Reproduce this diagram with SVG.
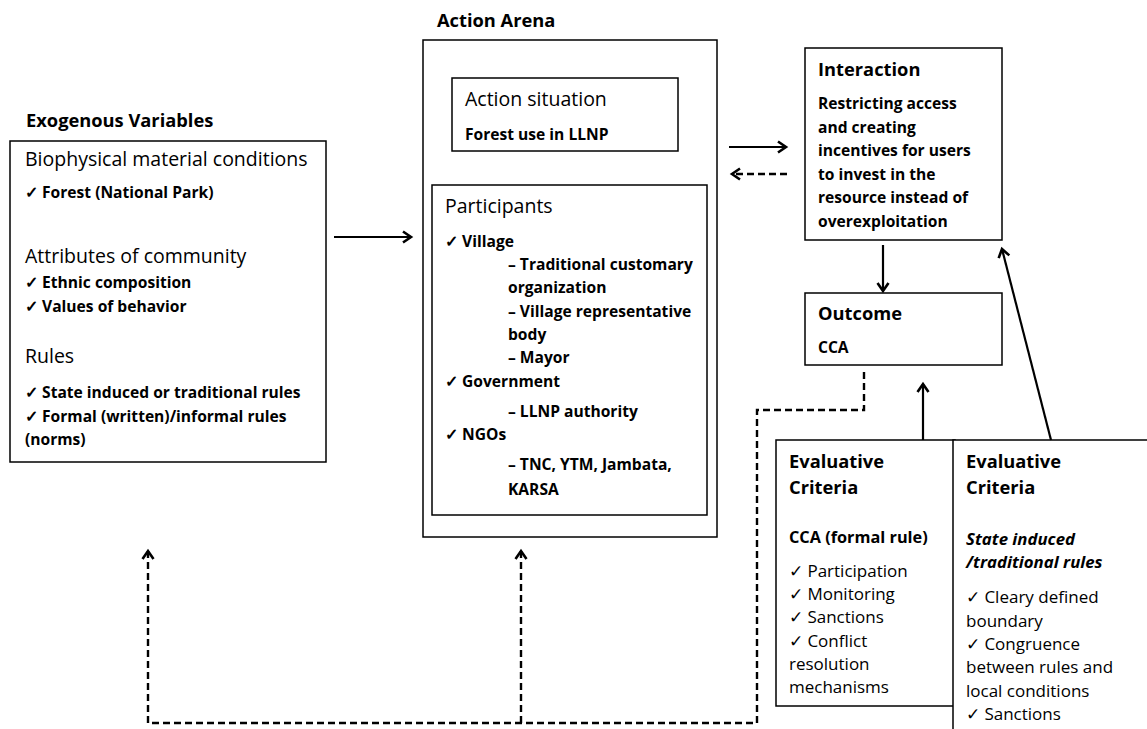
<svg xmlns="http://www.w3.org/2000/svg" width="1147" height="729" viewBox="0 0 1147 729">
  <style>
    text { font-family: "Open Sans", "Liberation Sans", sans-serif; fill: #000; }
    .h { font-size: 18.3px; font-weight: bold; }
    .s { font-size: 19.5px; }
    .b { font-size: 15.6px; font-weight: bold; }
    .bt { font-size: 16.3px; font-weight: bold; }
    .r { font-size: 17px; }
    .bi { font-size: 16.8px; font-weight: bold; font-style: italic; }
    .box { fill: #fff; stroke: #000; stroke-width: 1.5; }
    .line { fill: none; stroke: #000; stroke-width: 2.2; }
    .dash { fill: none; stroke: #000; stroke-width: 2.4; stroke-dasharray: 7 4; }
  </style>
  <defs>
    <marker id="head" markerUnits="userSpaceOnUse" markerWidth="16" markerHeight="16" viewBox="-12 -8 16 16" refX="0" refY="0" orient="auto">
      <path d="M-8,-5.5 L0,0 L-8,5.5" fill="none" stroke="#000" stroke-width="2.6" stroke-linejoin="miter"/>
    </marker>
  </defs>

  <!-- Exogenous variables -->
  <g id="exogenous">
    <text class="h" x="26" y="127">Exogenous Variables</text>
    <rect class="box" x="10" y="141" width="316" height="321"/>
    <text class="s" x="25" y="166">Biophysical material conditions</text>
    <text class="b" x="25" y="198">✓ Forest (National Park)</text>
    <text class="s" x="25" y="263">Attributes of community</text>
    <text class="b" x="25" y="288">✓ Ethnic composition</text>
    <text class="b" x="25" y="312">✓ Values of behavior</text>
    <text class="s" x="25" y="363">Rules</text>
    <text class="b" x="25" y="398">✓ State induced or traditional rules</text>
    <text class="b" x="25" y="422">✓ Formal (written)/informal rules</text>
    <text class="b" x="25" y="445">(norms)</text>
  </g>

  <!-- Action arena -->
  <g id="action-arena">
    <text class="h" x="437" y="27">Action Arena</text>
    <rect class="box" x="423" y="40" width="294" height="497"/>
  </g>

  <g id="action-situation">
    <rect class="box" x="452" y="78" width="226" height="73"/>
    <text class="s" x="465" y="106">Action situation</text>
    <text class="b" x="465" y="140">Forest use in LLNP</text>
  </g>

  <g id="participants">
    <rect class="box" x="432" y="185" width="275" height="330"/>
    <text class="s" x="445" y="213">Participants</text>
    <text class="b" x="445" y="247">✓ Village</text>
    <text class="b" x="508" y="270">– Traditional customary</text>
    <text class="b" x="508" y="293">organization</text>
    <text class="b" x="508" y="317">– Village representative</text>
    <text class="b" x="508" y="340">body</text>
    <text class="b" x="508" y="363">– Mayor</text>
    <text class="b" x="445" y="387">✓ Government</text>
    <text class="b" x="508" y="417">– LLNP authority</text>
    <text class="b" x="445" y="440">✓ NGOs</text>
    <text class="b" x="508" y="470">– TNC, YTM, Jambata,</text>
    <text class="b" x="508" y="495">KARSA</text>
  </g>

  <!-- Interaction -->
  <g id="interaction">
    <rect class="box" x="805" y="48" width="197" height="192"/>
    <text class="h" x="818" y="76">Interaction</text>
    <text class="b" x="818" y="109">Restricting access</text>
    <text class="b" x="818" y="132.5">and creating</text>
    <text class="b" x="818" y="156">incentives for users</text>
    <text class="b" x="818" y="179.5">to invest in the</text>
    <text class="b" x="818" y="203">resource instead of</text>
    <text class="b" x="818" y="226.5">overexploitation</text>
  </g>

  <!-- Outcome -->
  <g id="outcome">
    <rect class="box" x="805" y="293" width="197" height="72"/>
    <text class="h" x="818" y="320">Outcome</text>
    <text class="b" x="818" y="353">CCA</text>
  </g>

  <!-- Evaluative criteria: formal rule -->
  <g id="criteria-formal">
    <rect class="box" x="776" y="440" width="179" height="266"/>
    <text class="h" x="789" y="468">Evaluative</text>
    <text class="h" x="789" y="494">Criteria</text>
    <text class="bt" x="789" y="543">CCA (formal rule)</text>
    <text class="r" x="789" y="577">✓ Participation</text>
    <text class="r" x="789" y="600">✓ Monitoring</text>
    <text class="r" x="789" y="623">✓ Sanctions</text>
    <text class="r" x="789" y="647">✓ Conflict</text>
    <text class="r" x="789" y="670">resolution</text>
    <text class="r" x="789" y="693">mechanisms</text>
  </g>

  <!-- Evaluative criteria: state induced / traditional rules -->
  <g id="criteria-traditional">
    <path class="box" d="M953,740 V440 H1150"/>
    <text class="h" x="966" y="468">Evaluative</text>
    <text class="h" x="966" y="494">Criteria</text>
    <text class="bi" x="966" y="545">State induced</text>
    <text class="bi" x="966" y="568">/traditional rules</text>
    <text class="r" x="966" y="603">✓ Cleary defined</text>
    <text class="r" x="966" y="627">boundary</text>
    <text class="r" x="966" y="650">✓ Congruence</text>
    <text class="r" x="966" y="673">between rules and</text>
    <text class="r" x="966" y="697">local conditions</text>
    <text class="r" x="966" y="720">✓ Sanctions</text>
  </g>

  <!-- Connectors -->
  <g id="connectors">
    <line class="line" x1="334" y1="237" x2="411" y2="237" marker-end="url(#head)"/>
    <line class="line" x1="729" y1="147" x2="786" y2="147" marker-end="url(#head)"/>
    <line class="dash" x1="787" y1="174" x2="732" y2="174" marker-end="url(#head)"/>
    <line class="line" x1="883" y1="245" x2="883" y2="291" marker-end="url(#head)"/>
    <line class="line" x1="923" y1="440" x2="923" y2="384" marker-end="url(#head)"/>
    <line class="line" x1="1051" y1="440" x2="1002" y2="249" marker-end="url(#head)"/>
    <path class="dash" d="M864,372 V410 H757 V723 H148 V551" marker-end="url(#head)"/>
    <line class="dash" x1="521" y1="723" x2="521" y2="551" marker-end="url(#head)"/>
  </g>
</svg>
